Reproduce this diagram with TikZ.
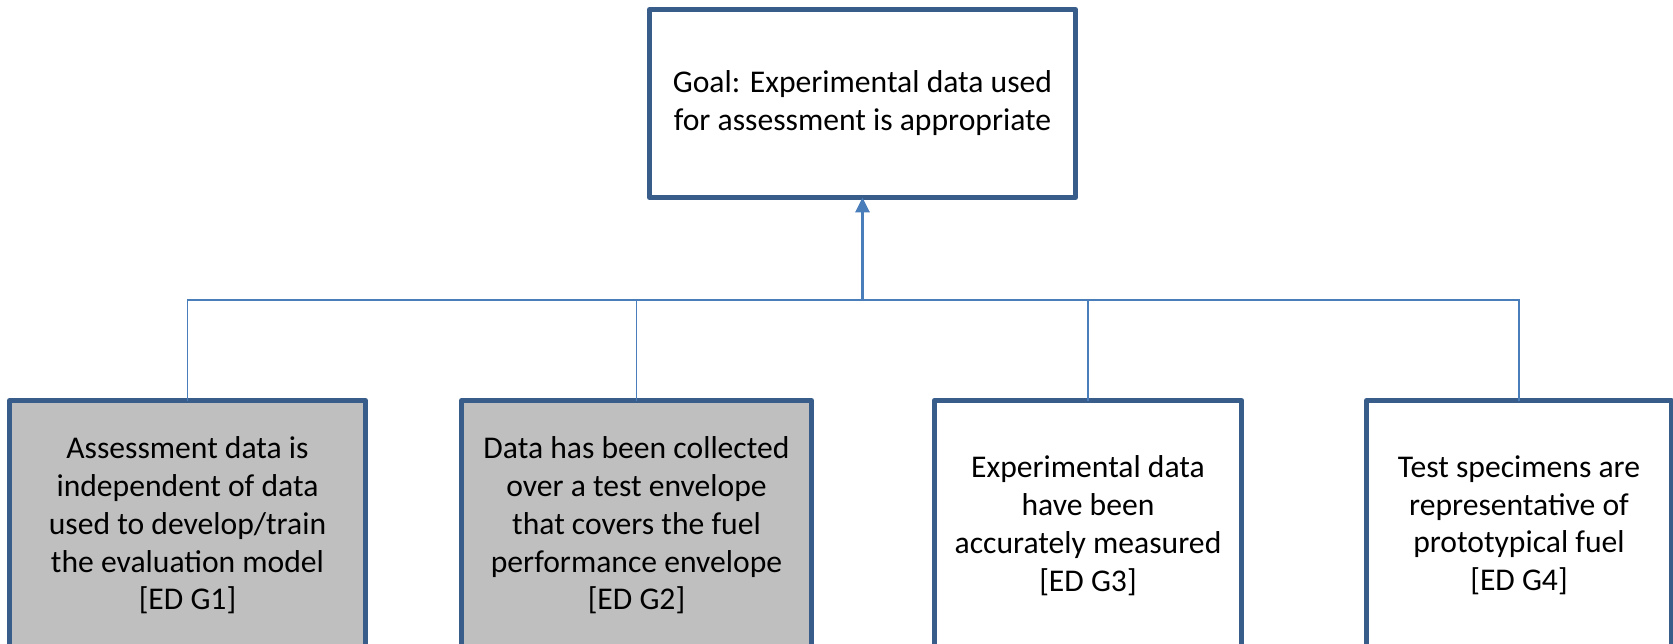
\documentclass[tikz,border=0pt]{standalone}
\usepackage{fontspec}
\setmainfont{Carlito}
\usetikzlibrary{positioning,arrows.meta}
\definecolor{boxborder}{RGB}{56,93,138}
\definecolor{linkcolor}{RGB}{74,126,187}
\definecolor{donecolor}{RGB}{191,191,191}

\begin{document}
\begin{tikzpicture}[
    every node/.style={font=\fontsize{18}{21.6}\selectfont},
    goal/.style={rectangle, draw=boxborder, line width=2.8pt, line join=round, fill=white, align=center, minimum width=8.52cm, minimum height=3.76cm, outer sep=0pt},
    subgoal/.style={goal, minimum width=6.15cm, minimum height=4.99cm},
    done/.style={subgoal, fill=donecolor},
    link/.style={draw=linkcolor, line width=0.9pt},
    arrow/.style={link, line width=1.7pt, -{Triangle[width=8pt, length=8.5pt]}}
]

% Fix the frame first so the lower boxes run off the bottom edge
\useasboundingbox (-17.25,-10.81) rectangle (16.21,2.07);

% Top-level goal
\node[goal] (goal) {Goal: Experimental data used\\for assessment is appropriate};

% Sub-goals along the bottom
\node[done, below=4.06cm of goal, xshift=-13.5cm, minimum width=7.12cm] (g1) {Assessment data is\\independent of data\\used to develop/train\\the evaluation model\\{}[ED G1]};
\node[done, below=4.06cm of goal, xshift=-4.52cm, minimum width=7.0cm] (g2) {Data has been collected\\over a test envelope\\that covers the fuel\\performance envelope\\{}[ED G2]};
\node[subgoal, below=4.06cm of goal, xshift=4.51cm] (g3) {Experimental data\\have been\\accurately measured\\{}[ED G3]};
\node[subgoal, below=4.06cm of goal, xshift=13.13cm, minimum width=6.1cm] (g4) {Test specimens are\\representative of\\prototypical fuel\\{}[ED G4]};

% Junction where the branches meet
\coordinate[below=2.05cm of goal] (hub);

% Connectors
\draw[link] (g1.north) |- (hub);
\draw[link] (g2.north) |- (hub);
\draw[link] (g3.north) |- (hub);
\draw[link] (g4.north) |- (hub);
\draw[arrow] (hub) -- (goal);

\end{tikzpicture}
\end{document}
